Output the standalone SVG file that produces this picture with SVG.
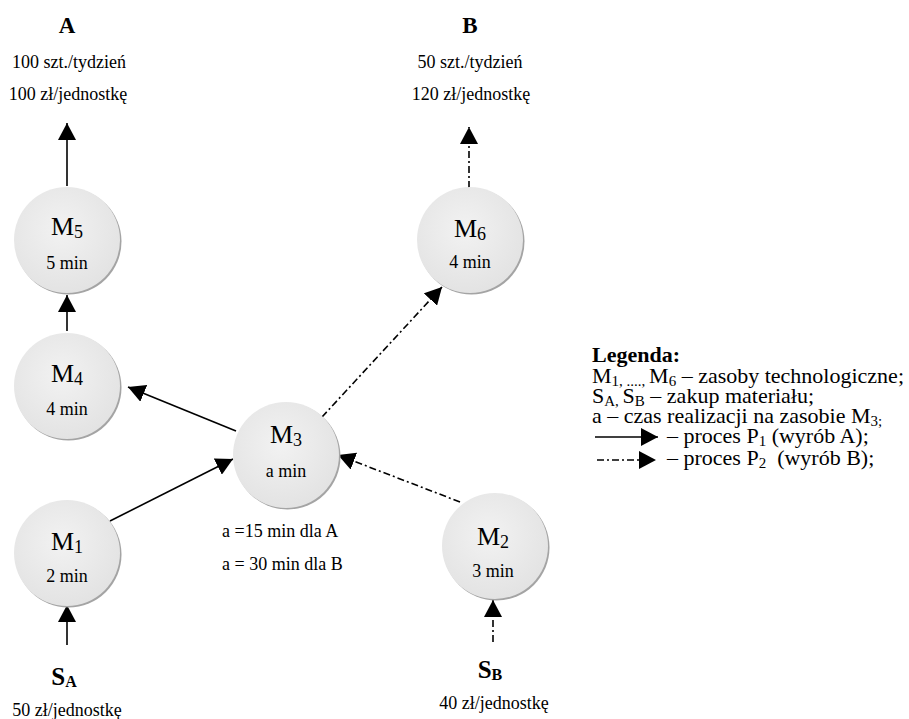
<svg xmlns="http://www.w3.org/2000/svg" width="909" height="719" viewBox="0 0 909 719">
<style>
  text { font-family: "Liberation Serif", "Times New Roman", serif; fill: #000; }
  .t { font-size: 18px; text-anchor: middle; }
  .m { font-size: 26px; text-anchor: middle; }
  .h { font-size: 23px; font-weight: bold; text-anchor: middle; }
  .lg { font-size: 22px; }
  .sub { font-size: 15px; }
  .msub { font-size: 18px; }
  .solid { stroke: #000; stroke-width: 1.6; fill: none; }
  .dd { stroke: #000; stroke-width: 1.6; fill: none; stroke-dasharray: 7 3 2 3; }
  .shadow { fill: #a4a4a4; }
  .disc { fill: url(#g); }
</style>
<defs>
  <radialGradient id="g" cx="45%" cy="40%" r="60%">
    <stop offset="0" stop-color="#f2f2f2"/>
    <stop offset="1" stop-color="#e3e3e3"/>
  </radialGradient>
  <marker id="ah" markerUnits="userSpaceOnUse" markerWidth="18" markerHeight="18" refX="17" refY="9" orient="auto">
    <path d="M0,0 L17,9 L0,18 Z" fill="#000" stroke="none"/>
  </marker>
</defs>
<rect width="909" height="719" fill="#fff"/>

<g id="connectors">
  <line class="solid" x1="67" y1="186" x2="67" y2="123" marker-end="url(#ah)"/>
  <line class="solid" x1="67" y1="331" x2="67" y2="295" marker-end="url(#ah)"/>
  <line class="solid" x1="110" y1="521" x2="233" y2="459" marker-end="url(#ah)"/>
  <line class="solid" x1="236" y1="431" x2="128" y2="387" marker-end="url(#ah)"/>
  <line class="solid" x1="67" y1="645" x2="67" y2="605" marker-end="url(#ah)"/>
  <line class="dd" x1="493" y1="642" x2="493" y2="600" marker-end="url(#ah)"/>
  <line class="dd" x1="460" y1="502" x2="338" y2="455" marker-end="url(#ah)"/>
  <line class="dd" x1="322" y1="417" x2="442" y2="287" marker-end="url(#ah)"/>
  <line class="dd" x1="469" y1="188" x2="469" y2="127" marker-end="url(#ah)"/>
</g>

<g id="A">
  <text class="h" x="67" y="33">A</text>
  <text class="t" x="69" y="68">100 szt./tydzień</text>
  <text class="t" x="68" y="100">100 zł/jednostkę</text>
</g>
<g id="B">
  <text class="h" x="470" y="33">B</text>
  <text class="t" x="470" y="68">50 szt./tydzień</text>
  <text class="t" x="471" y="100">120 zł/jednostkę</text>
</g>

<g id="M5">
  <circle class="shadow" cx="68.5" cy="241.5" r="53"/>
  <circle class="disc" cx="67" cy="240" r="53"/>
  <text class="m" x="67" y="235">M<tspan class="msub" dy="3">5</tspan></text>
  <text class="t" x="67" y="269">5 min</text>
</g>
<g id="M4">
  <circle class="shadow" cx="68.5" cy="387.5" r="53"/>
  <circle class="disc" cx="67" cy="386" r="53"/>
  <text class="m" x="67" y="382">M<tspan class="msub" dy="3">4</tspan></text>
  <text class="t" x="67" y="415">4 min</text>
</g>
<g id="M1">
  <circle class="shadow" cx="68.5" cy="554.5" r="53"/>
  <circle class="disc" cx="67" cy="553" r="53"/>
  <text class="m" x="67" y="550">M<tspan class="msub" dy="3">1</tspan></text>
  <text class="t" x="67" y="582">2 min</text>
</g>
<g id="M3">
  <circle class="shadow" cx="287.5" cy="456.5" r="53"/>
  <circle class="disc" cx="286" cy="455" r="53"/>
  <text class="m" x="286" y="443">M<tspan class="msub" dy="3">3</tspan></text>
  <text class="t" x="286" y="477">a min</text>
  <text class="t" x="222" y="537" style="text-anchor:start">a =15 min dla A</text>
  <text class="t" x="222" y="570" style="text-anchor:start">a = 30 min dla B</text>
</g>
<g id="M6">
  <circle class="shadow" cx="471.5" cy="241.5" r="53"/>
  <circle class="disc" cx="470" cy="240" r="53"/>
  <text class="m" x="470" y="237">M<tspan class="msub" dy="3">6</tspan></text>
  <text class="t" x="470" y="268">4 min</text>
</g>
<g id="M2">
  <circle class="shadow" cx="496.5" cy="547.5" r="53"/>
  <circle class="disc" cx="495" cy="546" r="53"/>
  <text class="m" x="493" y="545">M<tspan class="msub" dy="3">2</tspan></text>
  <text class="t" x="493" y="577">3 min</text>
</g>

<g id="SA">
  <text class="h" x="64" y="685" style="font-size:25px">S<tspan style="font-size:16px" dy="2">A</tspan></text>
  <text class="t" x="67" y="716">50 zł/jednostkę</text>
</g>
<g id="SB">
  <text class="h" x="490" y="678" style="font-size:25px">S<tspan style="font-size:16px" dy="2">B</tspan></text>
  <text class="t" x="494" y="709">40 zł/jednostkę</text>
</g>

<g id="legend">
  <line class="solid" x1="595" y1="437" x2="658" y2="437" marker-end="url(#ah)"/>
  <line class="dd" x1="597" y1="460" x2="656" y2="460" marker-end="url(#ah)"/>
  <text class="lg" xml:space="preserve"><tspan x="592" y="362" style="font-weight:bold">Legenda:</tspan><tspan x="592" y="383">M</tspan><tspan class="sub" dy="3">1, ...., </tspan><tspan dy="-3">M</tspan><tspan class="sub" dy="3">6</tspan><tspan dy="-3"> – zasoby technologiczne;</tspan><tspan x="592" y="403">S</tspan><tspan class="sub" dy="3">A, </tspan><tspan dy="-3">S</tspan><tspan class="sub" dy="3">B</tspan><tspan dy="-3"> – zakup materiału;</tspan><tspan x="592" y="423">a – czas realizacji na zasobie M</tspan><tspan class="sub" dy="3">3;</tspan><tspan x="667" y="443">– proces P</tspan><tspan class="sub" dy="3">1</tspan><tspan dy="-3"> (wyrób A);</tspan><tspan x="667" y="465">– proces P</tspan><tspan class="sub" dy="3">2</tspan><tspan dy="-3">  (wyrób B);</tspan></text>
</g>
</svg>
